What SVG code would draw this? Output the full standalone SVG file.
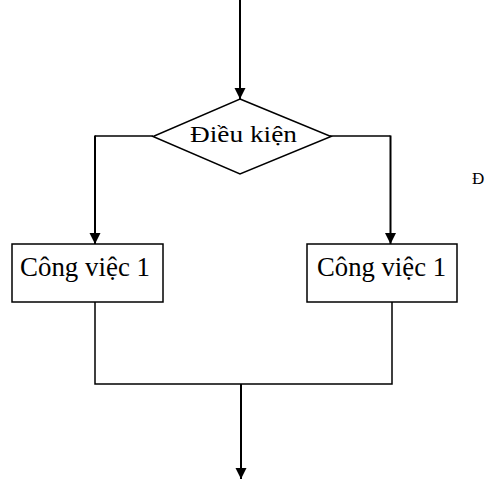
<svg xmlns="http://www.w3.org/2000/svg" width="486" height="479" viewBox="0 0 486 479">
  <style>
    .shape { fill: #ffffff; stroke: #000000; stroke-width: 1.5; }
    .wire { fill: none; stroke: #000000; stroke-width: 1.5; }
    .flow { fill: none; stroke: #000000; stroke-width: 2; }
    .label { font-family: "Liberation Serif", "Times New Roman", serif; fill: #000000; }
  </style>
  <defs>
    <marker id="arrow" markerUnits="userSpaceOnUse" markerWidth="12" markerHeight="12" refX="11" refY="5.5" orient="auto">
      <path d="M0,0 L11,5.5 L0,11 Z" fill="#000000"/>
    </marker>
  </defs>

  <g id="connectors">
    <!-- entry into the condition -->
    <line class="flow" x1="240" y1="0" x2="240" y2="99" marker-end="url(#arrow)"/>
    <!-- left branch -->
    <polyline class="wire" points="153,136 95,136"/>
    <line class="flow" x1="95" y1="135.5" x2="95" y2="244" marker-end="url(#arrow)"/>
    <!-- right branch -->
    <polyline class="wire" points="330,136 390.5,136"/>
    <line class="flow" x1="390.5" y1="135.5" x2="390.5" y2="244" marker-end="url(#arrow)"/>
    <!-- merge -->
    <polyline class="wire" points="95,302 95,384 392,384 392,302"/>
    <line class="flow" x1="241" y1="384" x2="241" y2="479" marker-end="url(#arrow)"/>
  </g>

  <g id="condition">
    <polygon class="shape" points="240,99 331,136.5 240,174 153,136.5"/>
    <text class="label" x="190" y="142" font-size="24" textLength="107" lengthAdjust="spacingAndGlyphs">Điều kiện</text>
  </g>

  <g id="task-left">
    <rect class="shape" x="12" y="244" width="151" height="58"/>
    <text class="label" x="20" y="276" font-size="27" textLength="130" lengthAdjust="spacingAndGlyphs">Công việc 1</text>
  </g>

  <g id="task-right">
    <rect class="shape" x="307" y="244" width="150" height="58"/>
    <text class="label" x="317" y="276" font-size="27" textLength="129" lengthAdjust="spacingAndGlyphs">Công việc 1</text>
  </g>

  <text class="label" x="472" y="184" font-size="17">Ð</text>
</svg>
